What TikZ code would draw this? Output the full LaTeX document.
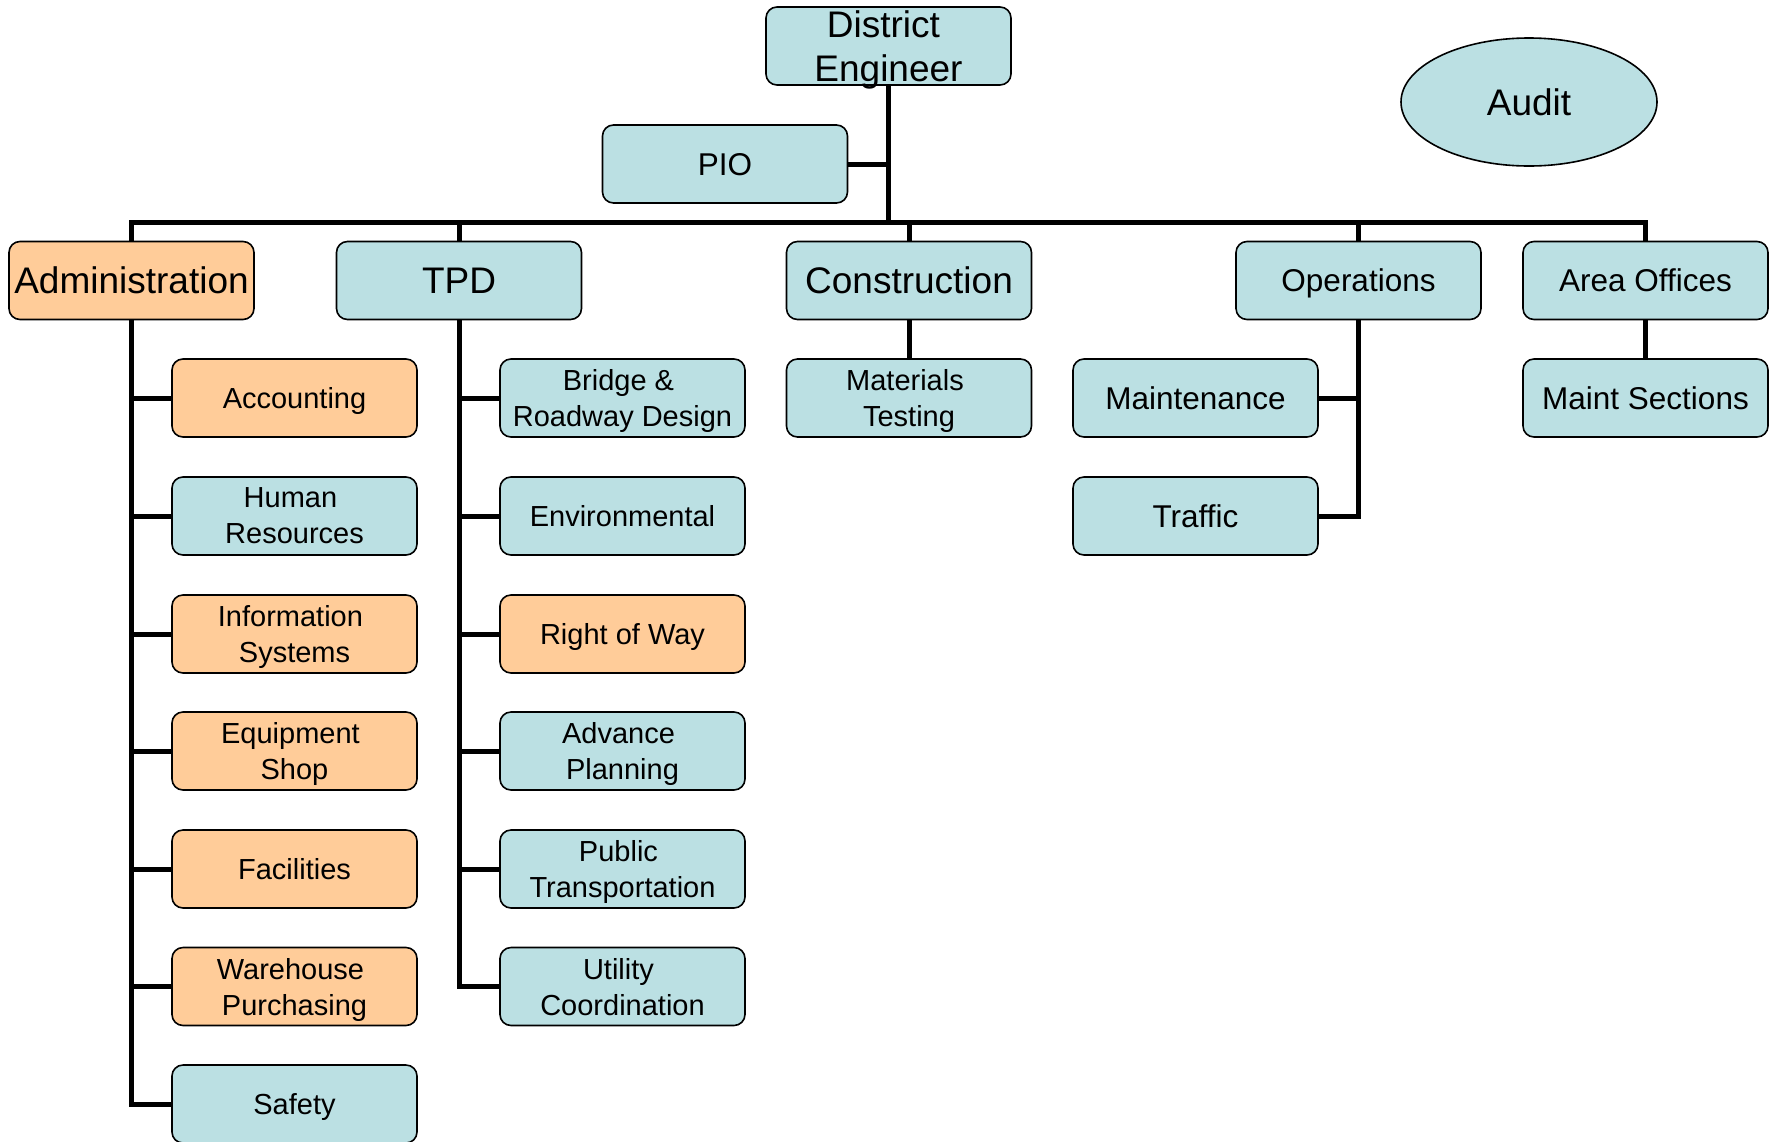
\documentclass[tikz,border=0pt]{standalone}
\usepackage{fontspec}
\setmainfont{Liberation Sans}
\usetikzlibrary{shapes.geometric}
\definecolor{boxblue}{RGB}{187,224,227}
\definecolor{boxorange}{RGB}{255,204,153}
\begin{document}
\begin{tikzpicture}[x=1pt,y=-1pt,
  box/.style={draw, line width=1.6pt, rounded corners=11pt, minimum width=245pt, minimum height=78pt, inner sep=0pt, align=center, fill=boxblue, text depth=0pt},
  org/.style={box, fill=boxorange},
  big/.style={font=\fontsize{37}{44}\selectfont},
  mid/.style={font=\fontsize{31.5}{38}\selectfont},
  small/.style={font=\fontsize{29}{36}\selectfont},
  conn/.style={line width=5pt}]
\useasboundingbox (0,0) rectangle (1777,1141);
% top
\node[box,big] (de) at (888.5,46) {District\kern0.278em\\Engineer};
\node[box,mid] (pio) at (725,164) {PIO};
\node[draw, line width=1.6pt, ellipse, fill=boxblue, minimum width=256pt, minimum height=128pt, inner sep=0pt, big, text depth=0pt] (audit) at (1529,102) {Audit};
\coordinate (bus) at (888.5,222);
% level 1
\node[org,big] (adm) at (131.5,280.5) {Administration};
\node[box,big] (tpd) at (459,280.5) {TPD};
\node[box,big] (con) at (909,280.5) {Construction};
\node[box,mid] (ops) at (1358.5,280.5) {Operations};
\node[box,mid] (area) at (1645.5,280.5) {Area Offices};
% admin children
\node[org,small] (acc) at (294.5,398) {Accounting};
\node[box,small] (hr) at (294.5,516) {Human\kern0.278em\\Resources};
\node[org,small] (is) at (294.5,634) {Information\kern0.278em\\Systems};
\node[org,small] (eq) at (294.5,751) {Equipment\kern0.278em\\Shop};
\node[org,small] (fac) at (294.5,869) {Facilities};
\node[org,small] (wh) at (294.5,986.5) {Warehouse\kern0.278em\\Purchasing};
\node[box,small] (saf) at (294.5,1104) {Safety};
% tpd children
\node[box,small] (brd) at (622.5,398) {Bridge \&\kern0.278em\\Roadway Design};
\node[box,small] (env) at (622.5,516) {Environmental};
\node[org,small] (row) at (622.5,634) {Right of Way};
\node[box,small] (adv) at (622.5,751) {Advance\kern0.278em\\Planning};
\node[box,small] (pub) at (622.5,869) {Public\kern0.278em\\Transportation};
\node[box,small] (util) at (622.5,986.5) {Utility\kern0.278em\\Coordination};
% construction child
\node[box,small] (mat) at (909,398) {Materials\kern0.278em\\Testing};
% operations children
\node[box,mid] (mnt) at (1195.5,398) {Maintenance};
\node[box,mid] (trf) at (1195.5,516) {Traffic};
% area child
\node[box,mid] (ms) at (1645.5,398) {Maint Sections};
% connectors
\draw[conn] (de.south) -- (bus);
\draw[conn] (pio.east) -- (pio.east -| bus);
\draw[conn] (adm.north) |- (bus);
\draw[conn] (tpd.north) |- (bus);
\draw[conn] (con.north) |- (bus);
\draw[conn] (ops.north) |- (bus);
\draw[conn] (area.north) |- (bus);
\foreach \c in {acc,hr,is,eq,fac,wh,saf} \draw[conn] (adm.south) |- (\c.west);
\foreach \c in {brd,env,row,adv,pub,util} \draw[conn] (tpd.south) |- (\c.west);
\draw[conn] (con.south) -- (mat.north);
\foreach \c in {mnt,trf} \draw[conn] (ops.south) |- (\c.east);
\draw[conn] (area.south) -- (ms.north);
\end{tikzpicture}
\end{document}
